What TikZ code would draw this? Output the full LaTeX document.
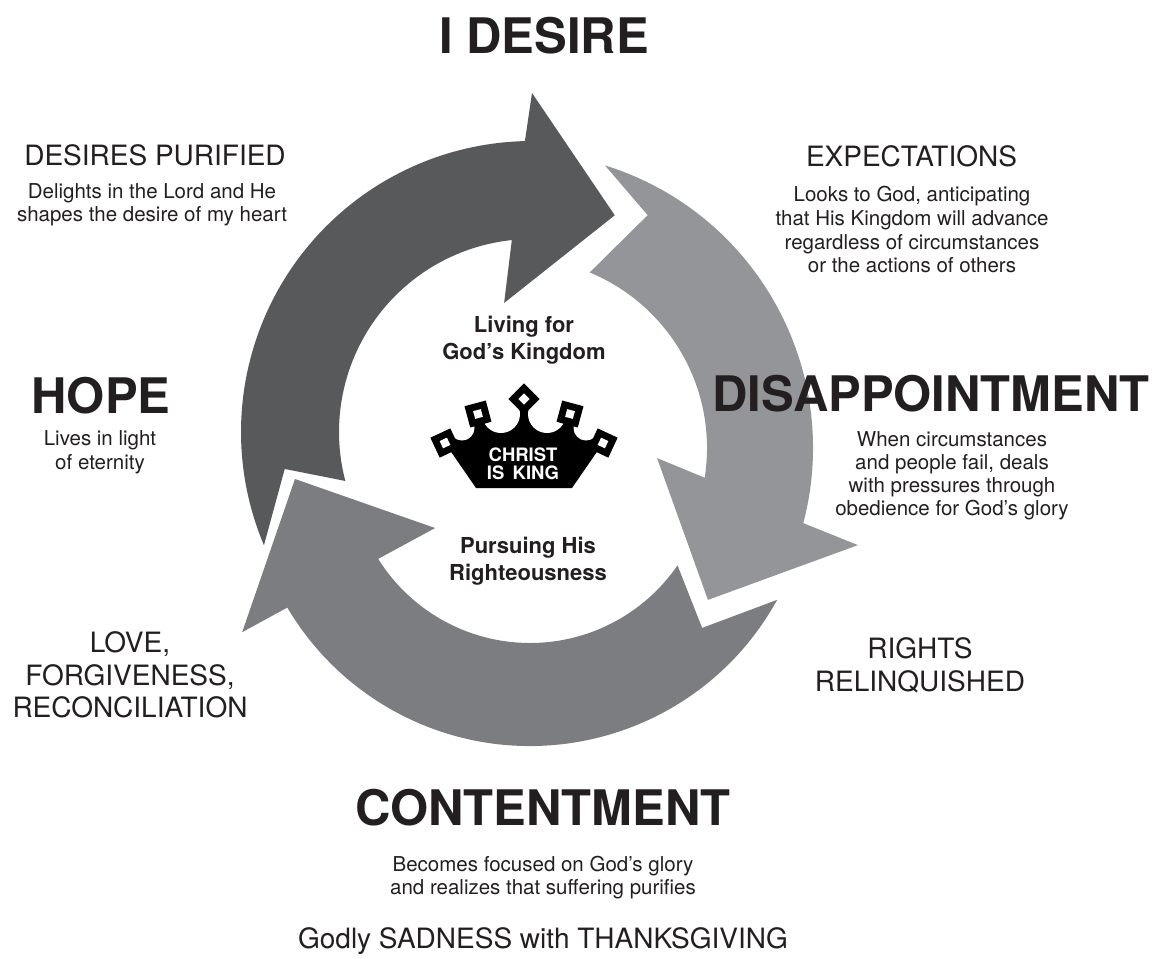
\documentclass[tikz,border=0pt]{standalone}
\usepackage{fontspec}
\setmainfont{TeX Gyre Heros}
\definecolor{ink}{HTML}{231F20}
\definecolor{desiregray}{HTML}{58595B}
\definecolor{disapgray}{HTML}{939598}
\definecolor{contentgray}{HTML}{7C7D81}
\tikzset{
  headtxt/.style={font=\fontsize{49}{49}\selectfont\bfseries, text=ink, anchor=base, inner sep=0pt},
  stagetxt/.style={font=\fontsize{28}{28}\selectfont, text=ink, anchor=base, inner sep=0pt},
  bodytxt/.style={font=\fontsize{20.5}{20.5}\selectfont, text=ink, anchor=base, inner sep=0pt},
  midtxt/.style={font=\fontsize{22}{22}\selectfont\bfseries, text=ink, anchor=base, inner sep=0pt},
  crowntxt/.style={font=\fontsize{18.5}{18.5}\selectfont\bfseries, text=white, anchor=base, inner sep=0pt}
}
\begin{document}
\begin{tikzpicture}[x=1pt,y=-1pt]
  \useasboundingbox (0,0) rectangle (1152,959);
  % the three arrows, each round its own centre
  \begin{scope}[shift={(532,432)},y=1pt]
    \fill[desiregray] (202.9:291) arc[start angle=202.9, end angle=91.4, radius=291]
      -- (90:339) -- (69.1:232) -- (102.2:132) -- (96:193)
      arc[start angle=96, end angle=194.7, radius=193] -- (188.5:250) -- cycle;
  \end{scope}
  \begin{scope}[shift={(517,448)},y=1pt]
    \fill[disapgray] (72.7:296) arc[start angle=72.7, end angle=-14.7, radius=296]
      -- (-15.9:354.5) -- (-38.5:244) -- (-4.1:140.4) -- (-9:190)
      arc[start angle=-9, end angle=67.5, radius=190] -- (60.7:267) -- cycle;
  \end{scope}
  \begin{scope}[shift={(530,464)},y=1pt]
    \fill[contentgray] (-28.8:282) arc[start angle=-28.8, end angle=-149.4, radius=282]
      -- (-149.7:333.4) -- (-176.35:235.5) -- (-146:114.5) -- (-148:179)
      arc[start angle=-148, end angle=-34.5, radius=179] -- (-43.6:237.7) -- cycle;
  \end{scope}
  % crown
  \fill (476,488) -- (445,443) -- (478,414) -- (524,400) -- (570,414) -- (603,443) -- (572,488) -- cycle;
  \fill[white] (501,414) circle[radius=19] (547,414) circle[radius=19]
    (462,428) circle[radius=12.5] (586,428) circle[radius=12.5];
  \foreach \cx/\cy/\tilt in {445/443/25, 478/414/15, 524/399/45, 570/414/-15, 603/443/-25}{
    \fill[rotate around={\tilt:(\cx,\cy)}] ({\cx-11},{\cy-11}) rectangle ({\cx+11},{\cy+11});
    \fill[white,rotate around={\tilt:(\cx,\cy)}] ({\cx-4},{\cy-4}) rectangle ({\cx+4},{\cy+4});
  }
  \path
    (523,461) node[crowntxt] (christ){CHRIST}
    (523,479) node[crowntxt] (isking){IS\hspace{0.45em}KING};
  % headings
  \path
    (544,53) node[headtxt] (desire){I DESIRE}
    (101,413) node[headtxt] (hope){HOPE}
    (931,411) node[headtxt] (disap){DISAPPOINTMENT}
    (543,825) node[headtxt] (content){CONTENTMENT};
  \path
    (155,165) node[stagetxt] (purified){DESIRES PURIFIED}
    (911.5,166.7) node[stagetxt] (expect){EXPECTATIONS}
    (920,658) node[stagetxt] (rights1){RIGHTS}
    (920,691) node[stagetxt] (rights2){RELINQUISHED}
    (130,652) node[stagetxt] (love1){LOVE,}
    (130,685) node[stagetxt] (love2){FORGIVENESS,}
    (130,717) node[stagetxt] (love3){RECONCILIATION}
    (543,948) node[stagetxt] (sadness){Godly SADNESS with THANKSGIVING};
  \path
    (524,332) node[midtxt] (living1){Living for}
    (524,359) node[midtxt] (living2){God’s Kingdom}
    (528,553) node[midtxt] (pursuing1){Pursuing His}
    (528,580) node[midtxt] (pursuing2){Righteousness};
  \begin{scope}[every node/.style=bodytxt]
    \path
      (152,198) node (purified1){Delights in the Lord and He}
      (152,221.7) node (purified2){shapes the desire of my heart}
      (912,201.7) node (expect1){Looks to God, anticipating}
      (912,225.3) node (expect2){that His Kingdom will advance}
      (912,249) node (expect3){regardless of circumstances}
      (912,272.7) node (expect4){or the actions of others}
      (100,445.5) node (hope1){Lives in light}
      (100,469) node (hope2){of eternity}
      (952,446) node (disap1){When circumstances}
      (952,469.3) node (disap2){and people fail, deals}
      (952,492.6) node (disap3){with pressures through}
      (952,515.9) node (disap4){obedience for God’s glory}
      (543,871) node (content1){Becomes focused on God’s glory}
      (543,894.5) node (content2){and realizes that suffering purifies};
  \end{scope}
\end{tikzpicture}
\end{document}
